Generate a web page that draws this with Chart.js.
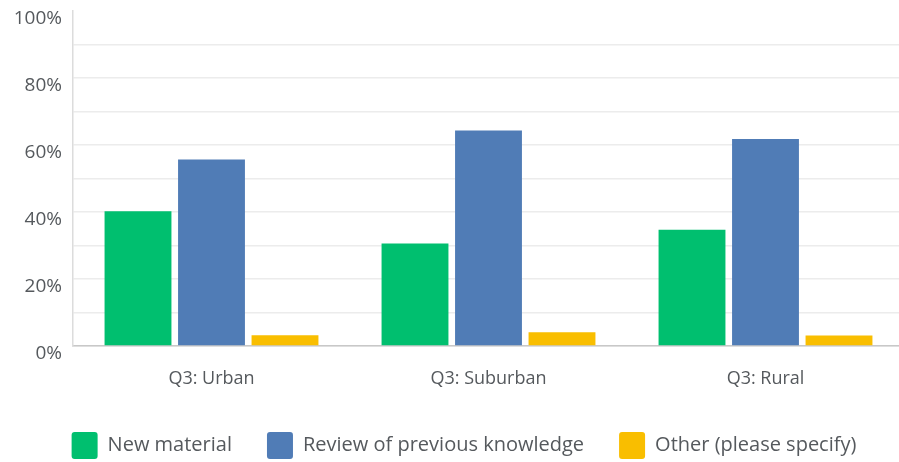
<!DOCTYPE html>
<html>
<head>
<meta charset="utf-8">
<script src="https://cdn.jsdelivr.net/npm/chart.js@4/dist/chart.umd.min.js"></script>
<style>
  html, body { margin: 0; padding: 0; background: #fff; overflow: hidden; }
  #wrap { position: absolute; left: 0; top: 0; width: 906px; height: 469px; }
</style>
</head>
<body>
<div id="wrap"><canvas id="chart" width="906" height="469"></canvas></div>
<script>
// Survey responses by setting (percent of respondents)
const categories = ['Q3: Urban', 'Q3: Suburban', 'Q3: Rural'];
const seriesNames = ['New material', 'Review of previous knowledge', 'Other (please specify)'];
const newMaterial = [40.2, 30.6, 34.7];
const reviewKnowledge = [55.7, 64.3, 61.8];
const otherSpecify = [3.2, 4.1, 3.1];
const seriesColors = ['#00BF6F', '#507CB6', '#F9BE00'];
const yTickLabels = ['0%', '20%', '40%', '60%', '80%', '100%'];

const textColor = '#55595d';
const fontFamily = '"Open Sans", Roboto, sans-serif';

const seriesValues = [newMaterial, reviewKnowledge, otherSpecify];

// Nudges the legend row sideways by a fixed number of pixels
const legendShift = {
  id: 'legendShift',
  afterLayout(chart, args, opts) {
    const lg = chart.legend;
    if (lg) { lg.left += opts.dx; lg.right += opts.dx; }
  }
};

new Chart(document.getElementById('chart'), {
  type: 'bar',
  data: {
    labels: categories,
    datasets: seriesNames.map((name, i) => ({
      label: name,
      data: seriesValues[i],
      backgroundColor: seriesColors[i],
      borderWidth: 0,
      categoryPercentage: 0.796,
      barPercentage: 0.91
    }))
  },
  plugins: [legendShift],
  options: {
    responsive: false,
    animation: false,
    layout: { padding: { left: 0, right: 2, top: 11, bottom: 0 } },
    plugins: {
      tooltip: { enabled: false },
      legendShift: { dx: 12 },
      legend: {
        position: 'bottom',
        labels: {
          boxWidth: 26,
          boxHeight: 27,
          useBorderRadius: true,
          borderRadius: 3,
          padding: 35,
          color: textColor,
          font: { family: fontFamily, size: 20 }
        }
      }
    },
    scales: {
      x: {
        grid: { display: false },
        border: { display: true, color: '#c8c8c8', width: 1.5 },
        ticks: {
          color: textColor,
          padding: 14,
          font: { family: fontFamily, size: 18 }
        },
        afterFit: (scale) => { scale.height = 51; }
      },
      y: {
        min: 0,
        max: 100,
        grid: {
          drawTicks: false,
          color: (ctx) => (ctx.tick && ctx.tick.value === 100) ? 'rgba(0,0,0,0)' : '#ececec',
          lineWidth: 1.5
        },
        border: { display: true, color: '#dcdcdc', width: 1.5 },
        ticks: {
          stepSize: 10,
          autoSkip: false,
          padding: 11,
          labelOffset: 8,
          color: textColor,
          font: { family: fontFamily, size: 19 },
          callback: (value) => {
            const idx = yTickLabels.indexOf(value + '%');
            return idx >= 0 ? yTickLabels[idx] : '';
          }
        },
        afterFit: (scale) => {
          scale.width = 73;
          scale.paddingTop = 0;
          scale.paddingBottom = 0;
        }
      }
    }
  }
});
</script>
</body>
</html>
